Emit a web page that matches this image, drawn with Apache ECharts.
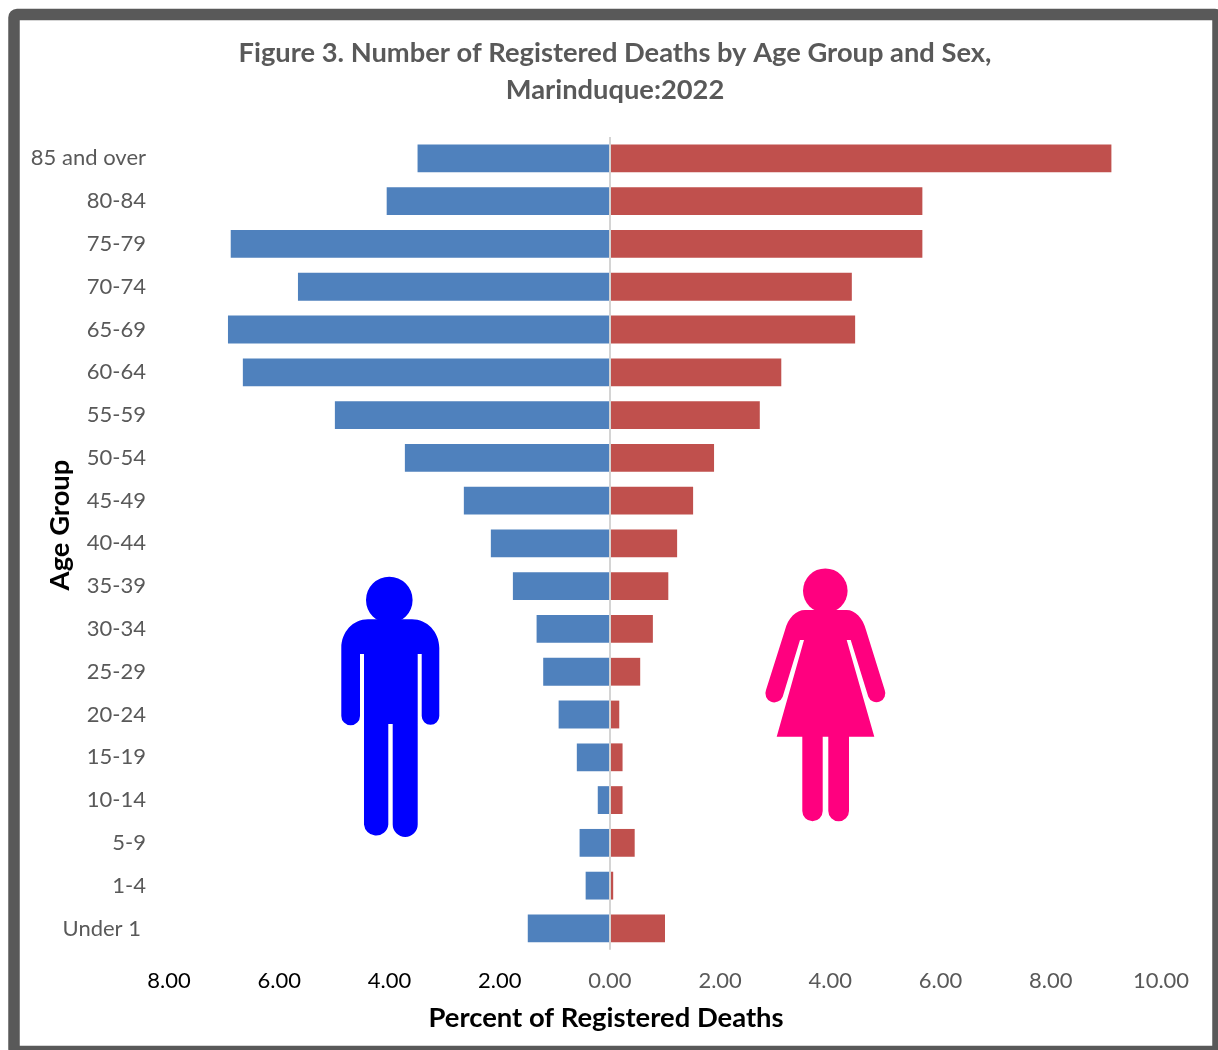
<!DOCTYPE html>
<html>
<head>
<meta charset="utf-8">
<style>html,body{margin:0;padding:0;background:#fff;overflow:hidden}#c{width:1218px;height:1050px}</style>
<script src="https://cdn.jsdelivr.net/npm/echarts@6/dist/echarts.min.js"></script>
</head>
<body>
<div id="c"></div>
<script>
const ageGroups = ['85 and over','80-84','75-79','70-74','65-69','60-64','55-59','50-54','45-49','40-44','35-39','30-34','25-29','20-24','15-19','10-14','5-9','1-4','Under 1'];
const malePercent = [3.49,4.05,6.88,5.66,6.93,6.66,4.99,3.72,2.65,2.16,1.76,1.33,1.21,0.93,0.60,0.22,0.55,0.44,1.49];
const femalePercent = [9.10,5.67,5.67,4.39,4.45,3.11,2.72,1.89,1.51,1.22,1.06,0.78,0.55,0.17,0.23,0.23,0.45,0.06,1.00];
const maleColor = '#4F81BD', femaleColor = '#C0504D';
const font = 'Lato';
const malePath = 'M341.3 648C341.3 632 353 619.3 368 619.3L412 619.3C427 619.3 439.3 632 439.3 648L439.3 716A8.8 8.8 0 0 1 421.7 716L421.7 654L417.7 654L417.7 824.5A12.5 12.5 0 0 1 392.7 824.5L392.7 724L388.3 724L388.3 824.5A12.2 12.2 0 0 1 364 824.5L364 654L360 654L360 716A9.35 9.35 0 0 1 341.3 716Z';
const femalePath = 'M805 610L846.7 610C855 610 863 618 866 630L884.7 690A8.5 8.5 0 0 1 868.3 696.7L850.7 640L846.7 640L874.3 736.7L849 736.7L849 811A10.35 10.35 0 0 1 828.3 811L828.3 736.7L822.7 736.7L822.7 811A10.2 10.2 0 0 1 802.3 811L802.3 736.7L776.7 736.7L804 640L800 640L782.7 696.7A8.7 8.7 0 0 1 766 690L785 630C788 618 796 610 805 610Z';
echarts.graphic.registerShape('maleIcon', echarts.graphic.extendPath(malePath, {}));
echarts.graphic.registerShape('femaleIcon', echarts.graphic.extendPath(femalePath, {}));

const chart = echarts.init(document.getElementById('c'), null, {renderer:'canvas'});
chart.setOption({
  animation:false,
  backgroundColor:'#fff',
  textStyle:{fontFamily:font},
  title:[
    {text:'Figure 3. Number of Registered Deaths by Age Group and Sex,\nMarinduque:2022',left:615,top:34.5,padding:0,textAlign:'center',
     textStyle:{fontFamily:font,fontSize:27.3,fontWeight:'bold',color:'#595959',lineHeight:37}},
    {text:'Percent of Registered Deaths',left:606,top:1005,padding:0,textAlign:'center',
     textStyle:{fontFamily:font,fontSize:27.4,fontWeight:'bold',color:'#000'}}
  ],
  grid:{left:169,right:57,top:137,bottom:100.2,containLabel:false},
  xAxis:{type:'value',min:-8,max:10,interval:2,
    axisLine:{show:false},axisTick:{show:false},splitLine:{show:false},
    axisLabel:{margin:20.5,fontSize:22,fontFamily:font,
      color:v=>v<0?'#000':'#595959',
      formatter:v=>Math.abs(v).toFixed(2)}},
  yAxis:{type:'category',inverse:true,data:ageGroups,
    axisLine:{show:false},axisTick:{show:false},
    axisLabel:{margin:23,fontSize:22,fontFamily:font,color:'#595959',interval:0,
      formatter:v=>v==='Under 1'?'{u|'+v+'}':v,
      rich:{u:{fontSize:22,fontFamily:font,color:'#595959',padding:[0,5,0,0]}}}},
  series:[
    {name:'Male',type:'bar',barWidth:'65%',barGap:'-100%',
     itemStyle:{color:maleColor},data:malePercent.map(v=>-v),
     markLine:{silent:true,symbol:'none',label:{show:false},z:5,
       lineStyle:{color:'#D4D4D4',width:2,type:'solid'},data:[{xAxis:0}]}},
    {name:'Female',type:'bar',barWidth:'65%',barGap:'-100%',
     itemStyle:{color:femaleColor},data:femalePercent}
  ],
  graphic:[
    {type:'rect',z:-1,shape:{x:14,y:14.5,width:1204,height:1037,r:3},
     style:{fill:'none',stroke:'#595959',lineWidth:11.5}},
    {type:'text',x:60,y:525,rotation:Math.PI/2,
     style:{text:'Age Group',fontFamily:font,fontSize:27.4,fontWeight:'bold',fill:'#000',align:'center',verticalAlign:'middle'}},
    {type:'circle',shape:{cx:389.3,cy:600,r:23.3},style:{fill:'#0000FF'}},
    {type:'maleIcon',style:{fill:'#0000FF'}},
    {type:'circle',shape:{cx:825.3,cy:590.7,r:22.3},style:{fill:'#FF007F'}},
    {type:'femaleIcon',style:{fill:'#FF007F'}}
  ]
});
</script>
</body>
</html>
